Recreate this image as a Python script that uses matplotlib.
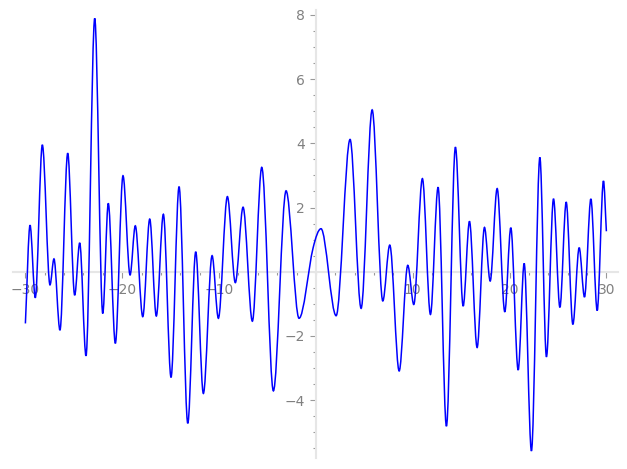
import numpy as np
import matplotlib
matplotlib.use('Agg')
from matplotlib import pyplot as plt
from matplotlib.path import Path
from matplotlib.patches import PathPatch
from matplotlib.ticker import FixedLocator, MultipleLocator

# turning points of the curve (plus the two ends and one shoulder)
x_pts = [-30.0, -29.52, -28.98, -28.25, -27.46, -27.05, -26.43, -25.63, -24.91, -24.39,
         -23.74, -22.84, -22.01, -21.44, -20.71, -19.92, -19.19, -18.65, -17.88, -17.16,
         -16.48, -15.75, -14.96, -14.13, -13.23, -12.41, -11.62, -10.72, -10.07, -9.14,
         -8.32, -7.52, -6.56, -5.59, -4.39, -3.08, -1.74, -0.29, 0.53, 2.09,
         3.53, 4.67, 5.81, 6.91, 7.63, 8.60, 9.49, 10.11, 11.0, 11.83,
         12.62, 13.48, 14.41, 15.21, 15.86, 16.65, 17.41, 18.0, 18.72, 19.51,
         20.13, 20.89, 21.51, 22.26, 23.13, 23.81, 24.54, 25.20, 25.85, 26.54,
         27.19, 27.74, 28.40, 29.05, 29.70, 30.0]
y_pts = [-1.61, 1.45, -0.81, 3.95, -0.41, 0.40, -1.82, 3.69, -0.73, 0.90,
         -2.62, 7.89, -1.30, 2.13, -2.23, 2.99, -0.10, 1.43, -1.40, 1.64,
         -1.38, 1.79, -3.29, 2.65, -4.72, 0.62, -3.79, 0.50, -1.45, 2.34,
         -0.34, 2.01, -1.54, 3.25, -3.71, 2.52, -1.45, 0.74, 1.34, -1.37,
         4.12, -1.14, 5.04, -0.91, 0.83, -3.09, 0.20, -1.02, 2.90, -1.33,
         2.63, -4.81, 3.88, -1.07, 1.57, -2.36, 1.38, -0.29, 2.59, -1.25,
         1.37, -3.06, 0.26, -5.58, 3.56, -2.65, 2.27, -1.11, 2.17, -1.64,
         0.75, -0.79, 2.27, -1.21, 2.83, 1.26]

x_major = [-30, -20, -10, 10, 20, 30]
y_major = [-4, -2, 2, 4, 6, 8]


def slopes(xs, ys):
    # flat at turning points, otherwise slope from the neighbours
    m = []
    n = len(xs)
    for i in range(n):
        if i == 0:
            m.append((ys[1] - ys[0]) / (xs[1] - xs[0]))
        elif i == n - 1:
            m.append((ys[-1] - ys[-2]) / (xs[-1] - xs[-2]))
        elif (ys[i] - ys[i - 1]) * (ys[i + 1] - ys[i]) < 0:
            m.append(0.0)
        else:
            m.append((ys[i + 1] - ys[i - 1]) / (xs[i + 1] - xs[i - 1]))
    return m


def smooth_path(xs, ys):
    m = slopes(xs, ys)
    verts = [(xs[0], ys[0])]
    codes = [Path.MOVETO]
    for i in range(len(xs) - 1):
        dx = xs[i + 1] - xs[i]
        verts.append((xs[i] + dx / 3, ys[i] + m[i] * dx / 3))
        verts.append((xs[i + 1] - dx / 3, ys[i + 1] - m[i + 1] * dx / 3))
        verts.append((xs[i + 1], ys[i + 1]))
        codes += [Path.CURVE4] * 3
    return Path(verts, codes)


fig = plt.figure(figsize=(6.27, 4.69), dpi=100)
ax = fig.add_axes([13 / 627, 11 / 469, 605 / 627, 448 / 469])

curve = PathPatch(smooth_path(x_pts, y_pts), facecolor='none', edgecolor='#0000ff',
                  linewidth=1.1, zorder=5)
ax.add_patch(curve)

ax.set_xlim(-31.28, 31.2)
ax.set_ylim(-5.80, 8.15)

for side in ['top', 'right']:
    ax.spines[side].set_visible(False)
for side in ['left', 'bottom']:
    ax.spines[side].set_position(('data', 0))
    ax.spines[side].set_color('#e6e6e6')
    ax.spines[side].set_linewidth(1.5)

ax.xaxis.set_major_locator(FixedLocator(x_major))
ax.xaxis.set_minor_locator(MultipleLocator(2))
ax.yaxis.set_major_locator(FixedLocator(y_major))
ax.yaxis.set_minor_locator(MultipleLocator(0.5))

ax.tick_params(which='both', direction='out', color='#999999', width=0.8,
               labelcolor='#808080', labelsize=10)
ax.tick_params(which='major', length=4, pad=4)
ax.tick_params(which='minor', length=2.5)

fig.savefig('out.png', dpi=100)
